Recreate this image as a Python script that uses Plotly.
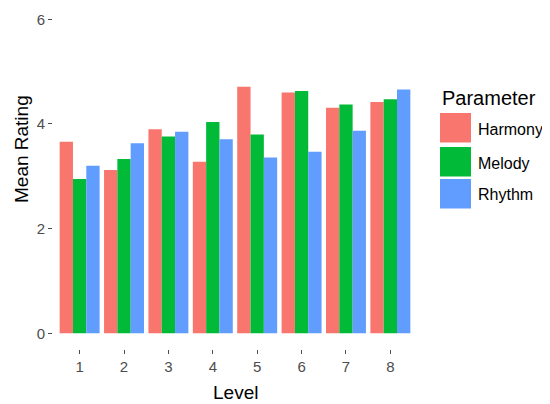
import plotly.graph_objects as go

levels = ["1", "2", "3", "4", "5", "6", "7", "8"]
harmony = [3.66, 3.12, 3.90, 3.28, 4.71, 4.60, 4.31, 4.42]
melody = [2.95, 3.33, 3.76, 4.04, 3.80, 4.63, 4.37, 4.47]
rhythm = [3.20, 3.63, 3.85, 3.71, 3.36, 3.47, 3.87, 4.66]
series_names = ["Harmony", "Melody", "Rhythm"]
colors = ["#F8766D", "#00BA38", "#619CFF"]
y_ticks = [0, 2, 4, 6]

OFF = 8  # page body margin
W, H = 550 - OFF, 404 - OFF
L, R, T, B = 45, 133, 0, 55
pw, ph = W - L - R, H - T - B

def px_x(p):
    return (p - OFF - L) / pw

def px_y(p):
    return (H - B - (p - OFF)) / ph

fig = go.Figure()
for name, vals, col in zip(series_names, [harmony, melody, rhythm], colors):
    fig.add_trace(go.Bar(x=levels, y=vals, name=name, marker=dict(color=col, line=dict(width=0)),
                         showlegend=False))

font_family = "Liberation Sans, Arial, sans-serif"
fig.update_layout(
    width=W, height=H,
    margin=dict(l=L, r=R, t=T, b=B, autoexpand=False),
    paper_bgcolor="white", plot_bgcolor="white",
    barmode="group", bargap=0.1, bargroupgap=0,
    font=dict(family=font_family, color="black"),
    xaxis=dict(range=[-0.6, 7.6], showgrid=False, zeroline=False, showline=False, automargin=False,
               ticks="outside", ticklen=4, tickwidth=1, tickcolor="#4D4D4D",
               tickfont=dict(size=15, color="#4D4D4D")),
    yaxis=dict(range=[-0.3, 6.216], tickvals=y_ticks, showgrid=False, zeroline=False, showline=False,
               automargin=False, ticks="outside", ticklen=4, tickwidth=1, tickcolor="#4D4D4D",
               tickfont=dict(size=15, color="#4D4D4D")),
)

# axis titles
fig.add_annotation(text="Level", xref="paper", yref="paper", x=px_x(235.5), y=px_y(393),
                   xanchor="center", yanchor="middle", showarrow=False,
                   font=dict(size=19, color="black", family=font_family))
fig.add_annotation(text="Mean Rating", xref="paper", yref="paper", x=px_x(21), y=px_y(149),
                   xanchor="center", yanchor="middle", showarrow=False, textangle=-90,
                   font=dict(size=19, color="black", family=font_family))

# custom legend (ggplot style)
fig.add_annotation(text="Parameter", xref="paper", yref="paper", x=px_x(440), y=px_y(98),
                   xanchor="left", yanchor="middle", showarrow=False,
                   font=dict(size=20, color="black", family=font_family))
key_tops = [113, 147, 179]
for name, col, top in zip(series_names, colors, key_tops):
    fig.add_shape(type="rect", xref="paper", yref="paper",
                  x0=px_x(440), x1=px_x(471), y0=px_y(top + 29.5), y1=px_y(top),
                  fillcolor=col, line=dict(width=0))
    fig.add_annotation(text=name, xref="paper", yref="paper", x=px_x(476), y=px_y(top + 16),
                       xanchor="left", yanchor="middle", showarrow=False,
                       font=dict(size=16, color="black", family=font_family))

fig.write_html("out.html")
